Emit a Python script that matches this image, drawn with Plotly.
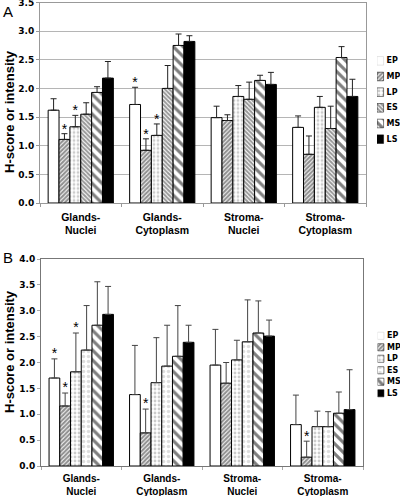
import plotly.graph_objects as go

categories = ["Glands-<br>Nuclei", "Glands-<br>Cytoplasm", "Stroma-<br>Nuclei", "Stroma-<br>Cytoplasm"]
series = ["EP", "MP", "LP", "ES", "MS", "LS"]

# Panel A: mean values and upper error (SD) per series, by category
a_vals = {
    "EP": [1.62, 1.72, 1.49, 1.32],
    "MP": [1.11, 0.92, 1.44, 0.85],
    "LP": [1.33, 1.18, 1.86, 1.67],
    "ES": [1.55, 2.00, 1.81, 1.30],
    "MS": [1.93, 2.75, 2.14, 2.54],
    "LS": [2.18, 2.82, 2.07, 1.86],
}
a_err = {
    "EP": [0.20, 0.30, 0.20, 0.20],
    "MP": [0.10, 0.20, 0.10, 0.32],
    "LP": [0.20, 0.20, 0.19, 0.19],
    "ES": [0.20, 0.40, 0.30, 0.39],
    "MS": [0.10, 0.20, 0.09, 0.19],
    "LS": [0.29, 0.10, 0.21, 0.30],
}
a_stars = {"EP": [0, 1, 0, 0], "MP": [1, 1, 0, 0], "LP": [1, 1, 0, 0]}

# Panel B
b_vals = {
    "EP": [1.70, 1.38, 1.95, 0.80],
    "MP": [1.16, 0.64, 1.60, 0.17],
    "LP": [1.82, 1.61, 2.05, 0.76],
    "ES": [2.24, 1.93, 2.40, 0.76],
    "MS": [2.72, 2.12, 2.57, 1.02],
    "LS": [2.93, 2.39, 2.51, 1.09],
}
b_err = {
    "EP": [0.37, 0.95, 0.69, 0.57],
    "MP": [0.25, 0.46, 0.40, 0.31],
    "LP": [0.75, 0.87, 0.38, 0.30],
    "ES": [0.86, 0.79, 0.81, 0.29],
    "MS": [0.84, 0.98, 0.62, 0.41],
    "LS": [0.54, 0.33, 0.31, 0.77],
}
b_stars = {"EP": [1, 0, 0, 0], "MP": [1, 1, 0, 1], "LP": [1, 0, 0, 0]}

a_ticks = [0.0, 0.5, 1.0, 1.5, 2.0, 2.5, 3.0, 3.5]
b_ticks = [0.0, 0.5, 1.0, 1.5, 2.0, 2.5, 3.0, 3.5, 4.0]

styles_a = {
    "EP": dict(color="white", pattern=dict(shape="")),
    "MP": dict(color="white", pattern=dict(shape="/", fgcolor="#222", size=3, solidity=0.7)),
    "LP": dict(color="white", pattern=dict(shape=".", fgcolor="#999", size=4, solidity=0.4)),
    "ES": dict(color="white", pattern=dict(shape="\\", fgcolor="#333", size=3, solidity=0.65)),
    "MS": dict(color="white", pattern=dict(shape="\\", fgcolor="black", size=7, solidity=0.45)),
    "LS": dict(color="black", pattern=dict(shape="")),
}
styles_b = dict(styles_a)
styles_b["ES"] = dict(color="white", pattern=dict(shape=".", fgcolor="#bbb", size=5, solidity=0.4))

FONT = "Liberation Sans, Arial, sans-serif"
TFONT = "DejaVu Sans, Verdana, sans-serif"

fig = go.Figure()

def add_panel(vals, errs, stars, styles, xa, ya, offs, errcol):
    for s in series:
        fig.add_trace(go.Bar(
            x=categories, y=vals[s], name=s, xaxis=xa, yaxis=ya,
            offsetgroup=s,
            marker=dict(color=styles[s]["color"], pattern=styles[s]["pattern"],
                        line=dict(color="black", width=1)),
            error_y=dict(type="data", symmetric=False, array=errs[s],
                         arrayminus=[0] * 4, color=errcol, thickness=1, width=3),
        ))
    for s in series:
        if s in stars:
            ys = [v + e + offs if f else None for v, e, f in zip(vals[s], errs[s], stars[s])]
            fig.add_trace(go.Scatter(
                x=categories, y=ys, mode="text", text=["*"] * 4, offsetgroup=s,
                textfont=dict(family=FONT, size=14, color="black"),
                xaxis=xa, yaxis=ya, hoverinfo="skip",
            ))

def add_key(styles, xa, ya, w):
    # legend keys drawn as a small bar chart, one unit bar per series, labelled outside
    for s in series:
        fig.add_trace(go.Bar(
            x=[1], y=[s], orientation="h", xaxis=xa, yaxis=ya, offsetgroup="k", width=w,
            text=[s], textposition="outside", cliponaxis=False, constraintext="none",
            outsidetextfont=dict(family=TFONT, size=8, color="black", weight="bold"),
            marker=dict(color=styles[s]["color"], pattern=styles[s]["pattern"],
                        line=dict(color="#ccc" if s == "EP" else "black", width=0.5)),
            hoverinfo="skip",
        ))

add_panel(a_vals, a_err, a_stars, styles_a, "x", "y", 0.06, "#222")
add_panel(b_vals, b_err, b_stars, styles_b, "x2", "y2", 0.08, "#444")
add_key(styles_a, "x3", "y3", 0.55)
add_key(styles_b, "x4", "y4", 0.62)

H = 496
def py(px):
    return 1 - px / H

xcat = dict(showline=True, mirror=True, ticks="outside", tickson="boundaries", ticklen=3,
            automargin=False, ticklabeloverflow="allow")
ynum = dict(tickformat=".1f", showline=True, mirror=True, ticks="outside", ticklen=3,
            zeroline=False, automargin=False, ticklabeloverflow="allow",
            tickfont=dict(family=TFONT, size=9, color="black", weight="bold"))
keyx = dict(range=[0, 3.5], visible=False, fixedrange=True)
keyy = dict(autorange="reversed", visible=False, fixedrange=True)

fig.update_layout(
    width=400, height=496, margin=dict(l=0, r=0, t=0, b=0),
    paper_bgcolor="white", plot_bgcolor="white", showlegend=False,
    barmode="group", bargap=0.2, bargroupgap=0, scattermode="group",
    xaxis=dict(domain=[40 / 400, 366 / 400], anchor="y", linecolor="#999", tickcolor="#999",
               ticklabelstandoff=4,
               tickfont=dict(family=FONT, size=10.5, color="black", weight="bold"), **xcat),
    yaxis=dict(domain=[py(203), py(2.5)], anchor="x", range=[0, 3.5], tickvals=a_ticks,
               showgrid=True, gridcolor="#b5b5b5", gridwidth=1, linecolor="#999",
               tickcolor="#999", **ynum),
    xaxis2=dict(domain=[41 / 400, 363 / 400], anchor="y2", linecolor="#777", tickcolor="#aaa",
                ticklabelstandoff=3,
                tickfont=dict(family=FONT, size=10, color="black", weight="bold"), **xcat),
    yaxis2=dict(domain=[py(466), py(259)], anchor="x2", range=[0, 4.0], tickvals=b_ticks,
                showgrid=False, linecolor="#777", tickcolor="#aaa", **ynum),
    xaxis3=dict(domain=[377 / 400, 400 / 400], anchor="y3", **keyx),
    yaxis3=dict(domain=[py(147), py(53)], anchor="x3", **keyy),
    xaxis4=dict(domain=[377.5 / 400, 400 / 400], anchor="y4", **keyx),
    yaxis4=dict(domain=[py(399), py(330)], anchor="x4", **keyy),
    annotations=[
        dict(text="A", x=1 / 400, y=py(12), xref="paper", yref="paper", showarrow=False,
             xanchor="left", yanchor="middle", font=dict(family=FONT, size=15, color="black")),
        dict(text="B", x=1 / 400, y=py(257), xref="paper", yref="paper", showarrow=False,
             xanchor="left", yanchor="middle", font=dict(family=FONT, size=15, color="black")),
        dict(text="H-score or intensity", x=9 / 400, y=py(112), xref="paper", yref="paper",
             showarrow=False, textangle=-90, xanchor="center", yanchor="middle",
             font=dict(family=FONT, size=13, color="black", weight="bold")),
        dict(text="H-score or intensity", x=9 / 400, y=py(352), xref="paper", yref="paper",
             showarrow=False, textangle=-90, xanchor="center", yanchor="middle",
             font=dict(family=FONT, size=13, color="black", weight="bold")),
    ],
)

fig.write_html("out.html", config={"displayModeBar": False, "staticPlot": True},
               post_script="document.body.style.margin='0';document.body.style.overflow='hidden';")
